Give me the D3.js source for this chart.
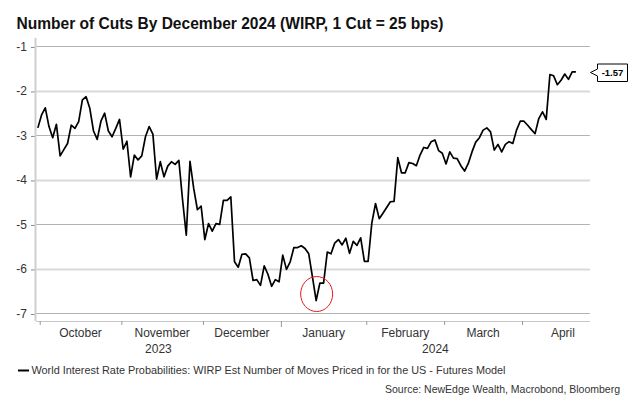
<!DOCTYPE html>
<html><head><meta charset="utf-8">
<script src="https://cdn.jsdelivr.net/npm/d3@7"></script>
<style>body{margin:0;background:#fff}svg{display:block}text{font-family:"Liberation Sans",Arial,sans-serif}</style>
</head><body><svg id="c" width="643" height="405"></svg>
<script>
const dates = [
"2023-09-29",
"2023-10-02","2023-10-03","2023-10-04","2023-10-05","2023-10-06","2023-10-09","2023-10-10","2023-10-11","2023-10-12","2023-10-13",
"2023-10-16","2023-10-17","2023-10-18","2023-10-19","2023-10-20","2023-10-23","2023-10-24","2023-10-25","2023-10-26","2023-10-27",
"2023-10-30","2023-10-31",
"2023-11-01","2023-11-02","2023-11-03","2023-11-06","2023-11-07","2023-11-08","2023-11-09","2023-11-10","2023-11-13","2023-11-14",
"2023-11-15","2023-11-16","2023-11-17","2023-11-20","2023-11-21","2023-11-22","2023-11-23","2023-11-24","2023-11-27","2023-11-28",
"2023-11-29","2023-11-30",
"2023-12-01","2023-12-04","2023-12-05","2023-12-06","2023-12-07","2023-12-08","2023-12-11","2023-12-12","2023-12-13","2023-12-14",
"2023-12-15","2023-12-18","2023-12-19","2023-12-20","2023-12-21","2023-12-22","2023-12-25","2023-12-26","2023-12-27","2023-12-28",
"2023-12-29",
"2024-01-01","2024-01-02","2024-01-03","2024-01-04","2024-01-05","2024-01-08","2024-01-09","2024-01-10","2024-01-11","2024-01-12",
"2024-01-15","2024-01-16","2024-01-17","2024-01-18","2024-01-19","2024-01-22","2024-01-23","2024-01-24","2024-01-25","2024-01-26",
"2024-01-29","2024-01-30","2024-01-31",
"2024-02-01","2024-02-02","2024-02-05","2024-02-06","2024-02-07","2024-02-08","2024-02-09","2024-02-12","2024-02-13","2024-02-14",
"2024-02-15","2024-02-16","2024-02-19","2024-02-20","2024-02-21","2024-02-22","2024-02-23","2024-02-26","2024-02-27","2024-02-28",
"2024-02-29",
"2024-03-01","2024-03-04","2024-03-05","2024-03-06","2024-03-07","2024-03-08","2024-03-11","2024-03-12","2024-03-13","2024-03-14",
"2024-03-15","2024-03-18","2024-03-19","2024-03-20","2024-03-21","2024-03-22","2024-03-25","2024-03-26","2024-03-27","2024-03-28",
"2024-03-29",
"2024-04-01","2024-04-02","2024-04-03","2024-04-04","2024-04-05","2024-04-08","2024-04-09","2024-04-10","2024-04-11","2024-04-12",
"2024-04-15","2024-04-16","2024-04-17","2024-04-18","2024-04-19"
];
const values = [
-2.83,
-2.54,-2.38,-2.80,-3.05,-2.75,-3.46,-3.32,-3.18,-2.77,-2.84,
-2.69,-2.20,-2.13,-2.39,-2.90,-3.09,-2.68,-2.50,-2.90,-3.03,
-2.84,-2.64,
-3.31,-3.13,-3.93,-3.44,-3.55,-3.46,-3.03,-2.80,-2.97,-3.98,
-3.59,-3.93,-3.69,-3.59,-3.65,-3.56,-4.45,-5.24,-3.58,-4.19,
-4.67,-4.59,
-5.34,-4.98,-5.15,-4.98,-5.00,-4.46,-4.46,-4.38,-5.84,-5.96,
-5.67,-5.66,-5.75,-6.26,-6.24,-6.37,-5.93,-6.12,-6.39,-6.24,
-6.29,
-5.69,-6.01,-5.84,-5.52,-5.52,-5.48,-5.54,-5.66,-6.18,-6.71,
-6.32,-6.32,-5.62,-5.66,-5.42,-5.34,-5.46,-5.31,-5.65,-5.38,
-5.47,-5.30,-5.83,
-5.83,-4.97,-4.53,-4.87,-4.75,-4.62,-4.49,-4.48,-3.50,-3.84,
-3.84,-3.61,-3.63,-3.68,-3.44,-3.27,-3.29,-3.14,-3.10,-3.34,
-3.40,
-3.64,-3.37,-3.51,-3.52,-3.68,-3.80,-3.63,-3.37,-3.15,-3.05,
-2.88,-2.83,-2.92,-3.33,-3.20,-3.37,-3.20,-3.14,-3.18,-2.88,
-2.68,
-2.68,-2.77,-2.87,-2.96,-2.62,-2.47,-2.64,-1.63,-1.66,-1.86,
-1.76,-1.62,-1.74,-1.57,-1.57
];
const yTicks = [-7,-6,-5,-4,-3,-2,-1];
const yearLabels = ["2023","2024"];
const titleText = "Number of Cuts By December 2024 (WIRP, 1 Cut = 25 bps)";
const legendText = "World Interest Rate Probabilities: WIRP Est Number of Moves Priced in for the US - Futures Model";
const sourceText = "Source: NewEdge Wealth, Macrobond, Bloomberg";

const parse = d3.timeParse("%Y-%m-%d");
const data = dates.map((d, i) => ({date: parse(d), i: i, v: values[i]}));

const svg = d3.select("#c");
const x = d3.scaleLinear().domain([-0.5, 148.8]).range([36, 590]);
const y = d3.scaleLinear().domain([-7.17, -0.81]).range([321, 38]);
const [x0, x1] = x.range();

// gridlines
svg.append("g").selectAll("line").data(yTicks).join("line")
  .attr("x1", x0).attr("x2", x1)
  .attr("y1", d => Math.round(y(d)) + 0.5).attr("y2", d => Math.round(y(d)) + 0.5)
  .attr("stroke", d => (d % 2 === 0) ? "#d9d9d9" : "#b3b3b3")
  .attr("stroke-width", d => (d % 2 === 0) ? 2 : 1);

// y axis labels + ticks
const yAxis = svg.append("g").attr("transform", `translate(${x0},0)`)
  .call(d3.axisLeft(y).tickValues(yTicks).tickSize(5).tickPadding(4).tickFormat(d => String(d)));
yAxis.select(".domain").remove();
yAxis.selectAll(".tick line").attr("stroke", "#888").attr("transform", "translate(0,0.5)");
yAxis.selectAll(".tick text").attr("fill", "#333").attr("font-size", 12).attr("font-family", "Liberation Sans, Arial, sans-serif");

// left axis line
svg.append("line").attr("x1", x0 - 0.5).attr("x2", x0 - 0.5).attr("y1", y.range()[1]).attr("y2", y.range()[0])
  .attr("stroke", "#cfcfcf").attr("stroke-width", 2);

// month boundaries
const monthKey = d3.timeFormat("%Y-%m");
const months = [];
data.forEach(d => {
  if (d.date.getDate() > 1 && d.i === 0) return; // partial first month (September)
  const k = monthKey(d.date);
  if (!months.length || months[months.length - 1].key !== k) months.push({key: k, start: d.i - 0.5, date: d3.timeMonth.floor(d.date)});
});
const validMonths = months.filter(m => m.key !== "2023-09");
validMonths.forEach(m => {
  const s = m.date, e = d3.timeMonth.offset(s, 1);
  const n = d3.timeDay.range(s, e).filter(d => d.getDay() % 6 !== 0).length;
  m.end = m.start + n;
});

// x axis
const xAxisY = y.range()[0];
svg.append("line").attr("x1", x0).attr("x2", x1).attr("y1", xAxisY + 0.5).attr("y2", xAxisY + 0.5)
  .attr("stroke", "#c8c8c8").attr("stroke-width", 1);
const xAxis = svg.append("g").attr("transform", `translate(0,${xAxisY})`)
  .call(d3.axisBottom(x).tickValues(validMonths.map(m => m.start)).tickSize(4).tickFormat(""));
xAxis.select(".domain").remove();
xAxis.selectAll(".tick line").attr("stroke", "#999")
  .attr("y2", (d, i) => validMonths[i].date.getMonth() === 0 ? 6 : 4);

const monthFmt = d3.timeFormat("%B");
svg.append("g").selectAll("text").data(validMonths).join("text")
  .attr("x", m => (x(m.start) + x(m.end)) / 2).attr("y", 336.5)
  .attr("text-anchor", "middle").attr("font-size", 12).attr("fill", "#333")
  .text(m => monthFmt(m.date));

const janStart = validMonths.find(m => m.date.getMonth() === 0).start;
const yearSpans = [[x0, x(janStart)], [x(janStart), x1]];
svg.append("g").selectAll("text").data(yearLabels).join("text")
  .attr("x", (d, i) => (yearSpans[i][0] + yearSpans[i][1]) / 2).attr("y", 352.5)
  .attr("text-anchor", "middle").attr("font-size", 12).attr("fill", "#333")
  .text(d => d);

// line
const line = d3.line().x(d => x(d.i)).y(d => y(d.v));
svg.append("path").datum(data).attr("d", line)
  .attr("fill", "none").attr("stroke", "#000").attr("stroke-width", 1.7).attr("stroke-linejoin", "round");

// red circle around minimum
const minPt = data.reduce((a, b) => b.v < a.v ? b : a);
svg.append("ellipse").attr("cx", x(minPt.i) + 0.5).attr("cy", y(minPt.v) - 6.5)
  .attr("rx", 16).attr("ry", 17.5).attr("fill", "none").attr("stroke", "#e81a1a").attr("stroke-width", 1);

// last value label
const last = data[data.length - 1];
const lg = svg.append("g").attr("transform", `translate(${x1},${Math.round(y(last.v)) + 0.5})`);
lg.append("path").attr("d", "M0.5,0 L7.5,-3.5 L7.5,-8.5 L37.5,-8.5 L37.5,9 L7.5,9 L7.5,3.5 Z")
  .attr("fill", "#fff").attr("stroke", "#000").attr("stroke-width", 1);
lg.append("text").attr("x", 22.5).attr("y", 3.5).attr("text-anchor", "middle")
  .attr("font-size", 9.5).attr("font-weight", "bold").attr("fill", "#000")
  .text(d3.format(".2f")(last.v).replace("−", "-"));

// title
svg.append("text").attr("x", 16.5).attr("y", 29).attr("font-size", 16).attr("font-weight", "bold")
  .attr("fill", "#111").attr("textLength", 427).attr("lengthAdjust", "spacingAndGlyphs").text(titleText);

// legend
svg.append("line").attr("x1", 18).attr("x2", 29).attr("y1", 370.5).attr("y2", 370.5).attr("stroke", "#000").attr("stroke-width", 2);
svg.append("text").attr("x", 31.5).attr("y", 374).attr("font-size", 10.5).attr("fill", "#333")
  .attr("textLength", 474).attr("lengthAdjust", "spacingAndGlyphs").text(legendText);

// source
svg.append("text").attr("x", 620).attr("y", 393).attr("font-size", 10.5).attr("fill", "#333")
  .attr("text-anchor", "end").text(sourceText);
</script></body></html>
